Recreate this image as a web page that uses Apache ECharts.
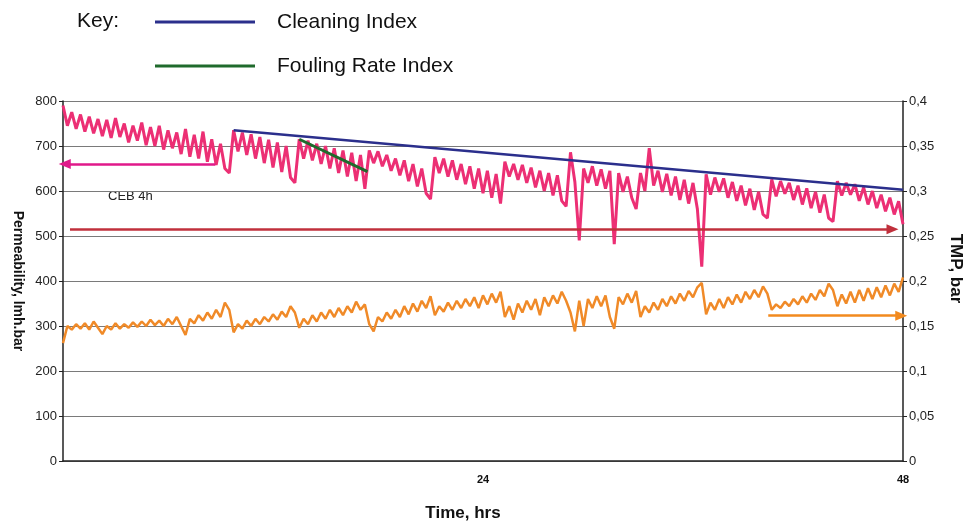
<!DOCTYPE html>
<html>
<head>
<meta charset="utf-8">
<script src="https://cdn.jsdelivr.net/npm/echarts@6/dist/echarts.min.js"></script>
<style>
  html, body { margin: 0; padding: 0; background: #fff; }
  #chart { width: 971px; height: 522px; }
</style>
</head>
<body>
<div id="chart"></div>
<script>
// sampling step of the logged series, hours
const STEP_H = 0.25

// permeability, lmh/bar (left axis), one value per 15 min
const permeability = [
  790, 745, 775, 738, 770, 732, 765, 728, 760, 722, 758, 718, 762, 720, 750, 708, 745, 712, 752, 702,
  742, 700, 745, 692, 735, 695, 730, 682, 738, 676, 725, 672, 732, 665, 715, 658, 705, 650, 640,
  735, 688, 730, 680, 726, 672, 720, 662, 714, 652, 708, 642, 700, 630, 618,
  715, 672, 712, 668, 705, 660, 700, 650, 695, 640, 690, 632, 685, 622, 680, 605,
  690, 662, 688, 655, 680, 645, 672, 635, 668, 622, 660, 610, 650, 595, 582,
  675, 640, 672, 632, 668, 625, 660, 615, 655, 605, 650, 595, 645, 585, 638, 572,
  665, 632, 660, 625, 658, 618, 652, 608, 645, 600, 640, 590, 635, 578, 566,
  686, 620, 490, 650, 618, 655, 612, 648, 605, 645, 482, 640, 598, 632, 585, 560,
  640, 600, 695, 612, 645, 598, 638, 590, 632, 580, 625, 572, 618, 560, 432,
  637, 592, 630, 598, 628, 585, 620, 578, 612, 568, 605, 558, 598, 548, 540,
  626, 588, 622, 594, 618, 580, 612, 570, 606, 562, 598, 552, 592, 540, 532,
  622, 590, 618, 592, 615, 578, 608, 570, 600, 562, 592, 555, 585, 548, 577, 526
]

// TMP, bar (right axis), same sampling
const tmp = [
  0.131, 0.150, 0.146, 0.152, 0.147, 0.153, 0.146, 0.155, 0.148, 0.141, 0.150, 0.146, 0.153, 0.147, 0.152,
  0.148, 0.154, 0.149, 0.155, 0.150, 0.157, 0.151, 0.156, 0.150, 0.158, 0.152, 0.160, 0.150, 0.140, 0.158,
  0.153, 0.162, 0.156, 0.165, 0.158, 0.168, 0.160, 0.176, 0.168,
  0.143, 0.152, 0.147, 0.156, 0.150, 0.158, 0.152, 0.160, 0.155, 0.163, 0.157, 0.166, 0.160, 0.172, 0.165,
  0.148, 0.158, 0.152, 0.162, 0.155, 0.165, 0.158, 0.168, 0.160, 0.170, 0.162, 0.172, 0.165, 0.177, 0.168, 0.174,
  0.152, 0.144, 0.160, 0.155, 0.165, 0.158, 0.168, 0.160, 0.172, 0.163, 0.175, 0.166, 0.178, 0.170, 0.183,
  0.162, 0.172, 0.166, 0.176, 0.168, 0.178, 0.170, 0.180, 0.172, 0.182, 0.170, 0.184, 0.174, 0.186, 0.176, 0.188,
  0.160, 0.172, 0.157, 0.175, 0.165, 0.178, 0.168, 0.180, 0.162, 0.182, 0.172, 0.184, 0.175, 0.188, 0.178,
  0.165, 0.144, 0.178, 0.150, 0.180, 0.170, 0.183, 0.172, 0.184, 0.160, 0.147, 0.182, 0.174, 0.186, 0.176, 0.189,
  0.160, 0.172, 0.165, 0.176, 0.168, 0.180, 0.172, 0.183, 0.175, 0.186, 0.178, 0.189, 0.182, 0.193, 0.198,
  0.163, 0.176, 0.168, 0.180, 0.170, 0.182, 0.174, 0.185, 0.176, 0.188, 0.180, 0.190, 0.182, 0.194, 0.186,
  0.168, 0.174, 0.170, 0.177, 0.172, 0.180, 0.174, 0.183, 0.176, 0.186, 0.179, 0.190, 0.183, 0.197, 0.190,
  0.172, 0.185, 0.175, 0.188, 0.176, 0.190, 0.178, 0.192, 0.180, 0.193, 0.182, 0.195, 0.184, 0.197, 0.188, 0.204
]

// index lines [hours, permeability]
const cleaningIndex = [[9.75, 735], [48, 603]]
const foulingRateIndex = [[13.5, 715], [17.4, 643]]

// annotation arrows [hours, value]
const permArrow = [[8.7, 660], [0.1, 660]]
const cebArrow = [[0.4, 515], [47.4, 515]]
const tmpArrow = [[40.3, 0.1615], [47.9, 0.1615]]

const leftTicks = { min: 0, max: 800, interval: 100 }
const rightTicks = { min: 0, max: 0.4, interval: 0.05 }
const timeTicks = { min: 0, max: 48, interval: 24 }

const chart = echarts.init(document.getElementById('chart'))

const withTime = (arr) => arr.map((v, i) => [i * STEP_H, v])

const arrowSeries = (pts, color, yIdx) => ({
  type: 'line',
  yAxisIndex: yIdx,
  data: [],
  silent: true,
  markLine: {
    silent: true,
    symbol: ['none', 'triangle'],
    symbolSize: [10, 12],
    symbolRotate: pts[1][0] > pts[0][0] ? -90 : 90,
    label: { show: false },
    lineStyle: { color: color, width: 2.5, type: 'solid' },
    itemStyle: { color: color },
    data: [[{ coord: pts[0] }, { coord: pts[1] }]],
  },
})

const option = {
  animation: false,
  textStyle: { fontFamily: 'Liberation Sans, Arial, sans-serif' },
  grid: { left: 63, right: 68, top: 101, bottom: 61, containLabel: false, outerBoundsMode: 'none' },
  legend: {
    left: 150,
    top: 5,
    orient: 'vertical',
    icon: 'rect',
    itemWidth: 100,
    itemHeight: 3,
    itemGap: 20,
    selectedMode: false,
    data: ['Cleaning Index', 'Fouling Rate Index'],
    textStyle: { fontSize: 21, color: '#111', lineHeight: 24, padding: [0, 0, 0, 17] },
  },
  graphic: [
    { type: 'text', left: 77, top: 11, style: { text: 'Key:', fill: '#111', font: '21px Liberation Sans, Arial, sans-serif' } },
    { type: 'text', left: 108, top: 190, style: { text: 'CEB 4h', fill: '#222', font: '13px Liberation Sans Narrow, Liberation Sans, Arial, sans-serif' } },
  ],
  xAxis: {
    type: 'value',
    ...timeTicks,
    name: 'Time, hrs',
    nameLocation: 'middle',
    nameGap: 44,
    nameTextStyle: { fontSize: 17, fontWeight: 'bold', color: '#111', padding: [0, 40, 0, 0] },
    axisLine: { lineStyle: { color: '#222', width: 1.5 } },
    axisTick: { show: false },
    splitLine: { show: false },
    axisLabel: {
      margin: 13,
      fontSize: 11,
      fontWeight: 'bold',
      color: '#111',
      formatter: (v) => (v === 0 ? '' : String(v)),
    },
  },
  yAxis: [
    {
      type: 'value',
      ...leftTicks,
      name: 'Permeability, lmh.bar',
      nameLocation: 'middle',
      nameRotate: -90,
      nameGap: 38,
      nameTextStyle: { fontSize: 14, fontWeight: 'bold', color: '#111' },
      axisLine: { show: true, lineStyle: { color: '#222', width: 1.5 } },
      axisTick: { show: true, length: 4, lineStyle: { color: '#222' } },
      axisLabel: { fontSize: 13, color: '#222', margin: 6 },
      splitLine: { show: true, lineStyle: { color: '#7a7a7a', width: 1.2 } },
    },
    {
      type: 'value',
      ...rightTicks,
      name: 'TMP, bar',
      nameLocation: 'middle',
      nameRotate: -90,
      nameGap: 44,
      nameTextStyle: { fontSize: 17, fontWeight: 'bold', color: '#111', padding: [0, 25, 0, 0] },
      axisLine: { show: true, lineStyle: { color: '#222', width: 1.5 } },
      axisTick: { show: true, length: 4, lineStyle: { color: '#222' } },
      axisLabel: {
        fontSize: 13,
        color: '#222',
        margin: 6,
        formatter: (v) => String(+v.toFixed(2)).replace('.', ','),
      },
      splitLine: { show: false },
    },
  ],
  series: [
    {
      name: 'TMP',
      type: 'line',
      yAxisIndex: 1,
      symbol: 'none',
      data: withTime(tmp),
      lineStyle: { color: '#f08a28', width: 2.5 },
      z: 2,
    },
    {
      name: 'Permeability',
      type: 'line',
      yAxisIndex: 0,
      symbol: 'none',
      data: withTime(permeability),
      lineStyle: { color: '#ec2f74', width: 3 },
      z: 3,
    },
    {
      name: 'Cleaning Index',
      type: 'line',
      yAxisIndex: 0,
      symbol: 'none',
      data: cleaningIndex,
      itemStyle: { color: '#2b2f8c' },
      lineStyle: { color: '#2b2f8c', width: 2.5 },
      z: 4,
    },
    {
      name: 'Fouling Rate Index',
      type: 'line',
      yAxisIndex: 0,
      symbol: 'none',
      data: foulingRateIndex,
      itemStyle: { color: '#1f6a2c' },
      lineStyle: { color: '#1f6a2c', width: 3 },
      z: 5,
    },
    arrowSeries(permArrow, '#e0198a', 0),
    arrowSeries(cebArrow, '#c0303c', 0),
    arrowSeries(tmpArrow, '#f28a1e', 1),
  ],
}

chart.setOption(option)
</script>
</body>
</html>
